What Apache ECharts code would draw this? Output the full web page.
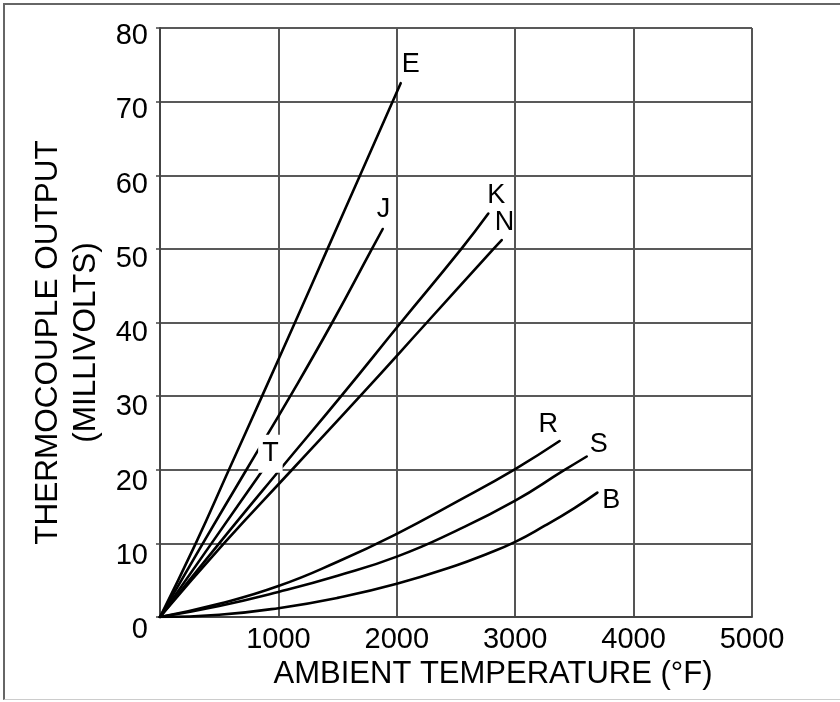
<!DOCTYPE html>
<html>
<head>
<meta charset="utf-8">
<script src="https://cdn.jsdelivr.net/npm/echarts@6/dist/echarts.min.js"></script>
<style>
  html, body { margin: 0; padding: 0; background: #fff; }
  #frame {
    position: absolute; left: 3px; top: 3px; width: 837px; height: 697px;
    box-sizing: border-box;
    border-top: 2px solid #666; border-left: 2px solid #666; border-bottom: 1px solid #ccc;
  }
  #chart { position: absolute; left: 0; top: 0; width: 840px; height: 702px; }
</style>
</head>
<body>
<div id="frame"></div>
<div id="chart"></div>
<script>
// thermocouple output vs ambient temperature, [°F, mV]
const E_CURVE = [[0, 0], [302, 10], [582, 20], [862, 30], [1140, 40], [1415, 50], [1690, 60], [2033, 72.5]];
const J_CURVE = [[0, 0], [362, 10], [730, 20], [1100, 30], [1455, 40], [1790, 50], [1881, 52.7]];
const T_CURVE = [[0, 0], [435, 10], [870, 20], [905, 20.8]];
const K_CURVE = [[0, 0], [500, 10], [1012, 20], [1530, 30], [2035, 40], [2545, 50], [2773, 54.8]];
const N_CURVE = [[0, 0], [540, 10], [1115, 20], [1690, 30], [2254, 40], [2817, 50], [2886, 51.2]];
const R_CURVE = [[0, 0], [500, 1.8], [1000, 4.2], [1500, 7.5], [2000, 11.3], [2500, 15.6], [3000, 20.1], [3375, 23.9]];
const S_CURVE = [[0, 0], [500, 1.5], [1000, 3.4], [1500, 5.6], [2000, 8.2], [2500, 11.7], [3000, 15.8], [3400, 19.8], [3604, 21.8]];
const B_CURVE = [[0, 0], [500, 0.3], [1000, 1.2], [1500, 2.6], [2000, 4.5], [2500, 7.0], [2750, 8.5], [3000, 10.2], [3250, 12.4], [3500, 14.8], [3694, 16.9]];

const CURVES = [
  { name: 'E', data: E_CURVE },
  { name: 'J', data: J_CURVE },
  { name: 'K', data: K_CURVE },
  { name: 'N', data: N_CURVE },
  { name: 'R', data: R_CURVE },
  { name: 'S', data: S_CURVE },
  { name: 'B', data: B_CURVE },
  { name: 'T', data: T_CURVE },
];

const Y_TICKS = [0, 10, 20, 30, 40, 50, 60, 70, 80];

// label placement relative to each curve's end point (px)
const LABEL_OFFSET = {
  E: [1, -19], J: [-6, -19], K: [-1, -18], N: [-7, -17],
  R: [-21, -16], S: [3, -12], B: [5, 8], T: [-9, -10],
};

const FONT = '"Liberation Sans", Arial, sans-serif';
const INK = '#000';

// y tick labels sit a little below their gridlines, more so toward the bottom
const yRich = {};
Y_TICKS.forEach(v => {
  yRich['t' + v] = { fontSize: 29, color: INK, fontFamily: FONT, lineHeight: 16 + (80 - v) / 8 };
});

const chart = echarts.init(document.getElementById('chart'), null, { renderer: 'canvas' });

chart.setOption({
  animation: false,
  textStyle: { fontFamily: FONT, color: INK },
  grid: { left: 160, right: 88, top: 28, bottom: 85, containLabel: false },
  xAxis: {
    type: 'value', min: 0, max: 5000, interval: 1000,
    name: 'AMBIENT TEMPERATURE (°F)', nameLocation: 'middle', nameGap: 39,
    nameTextStyle: { fontSize: 31, color: INK, fontFamily: FONT, padding: [0, 0, 0, 74] },
    axisLine: { show: true, lineStyle: { color: '#444', width: 2 } },
    axisTick: { show: false },
    axisLabel: { showMinLabel: false, fontSize: 29, color: INK, fontFamily: FONT, margin: 8, formatter: v => String(v) },
    splitLine: { show: true, lineStyle: { color: '#555', width: 2 } },
  },
  yAxis: {
    type: 'value', min: 0, max: 80, interval: 10,
    name: 'THERMOCOUPLE OUTPUT\n(MILLIVOLTS)', nameLocation: 'middle', nameGap: 47,
    nameTextStyle: { fontSize: 31.5, lineHeight: 38, color: INK, fontFamily: FONT, align: 'center', padding: [0, 40, 0, 0] },
    axisLine: { show: true, lineStyle: { color: '#444', width: 2 } },
    axisTick: { show: true, length: 4, lineStyle: { color: '#444', width: 1.5 } },
    axisLabel: {
      margin: 12, verticalAlign: 'top',
      formatter: v => `{t${v}|${v}}`,
      rich: yRich,
    },
    splitLine: { show: true, lineStyle: { color: '#222', width: 1.5 } },
  },
  series: CURVES.map(c => ({
    name: c.name,
    type: 'line',
    data: c.data,
    smooth: 0.5,
    showSymbol: false,
    symbol: 'none',
    lineStyle: { color: INK, width: 2.6, cap: 'round' },
    endLabel: {
      show: true,
      distance: 0,
      formatter: c.name,
      offset: LABEL_OFFSET[c.name],
      fontSize: 27,
      color: INK,
      fontFamily: FONT,
      ...(c.name === 'T' ? { backgroundColor: '#fff', padding: [5, 4, 6, 4] } : {}),
    },
  })),
});
</script>
</body>
</html>
